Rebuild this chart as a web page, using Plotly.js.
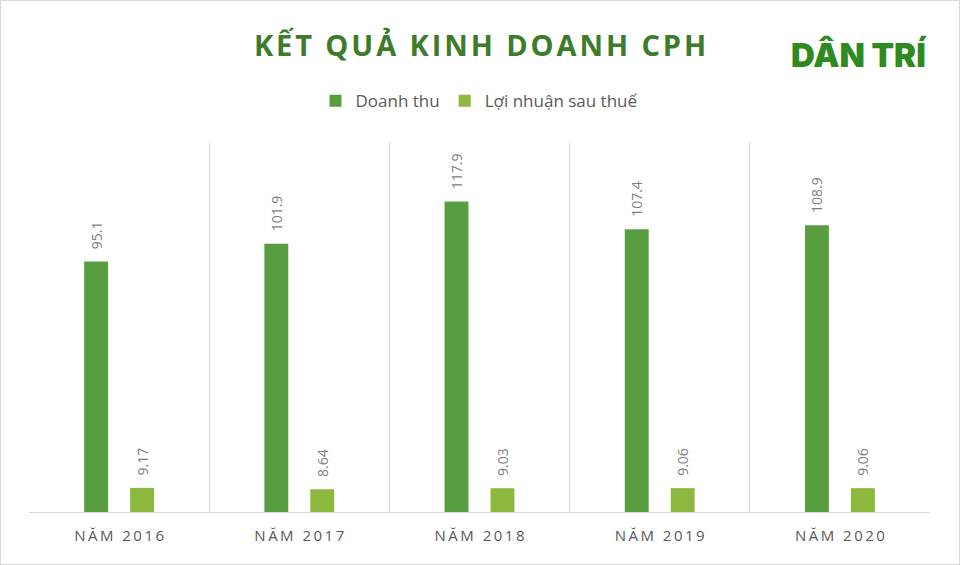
<!DOCTYPE html>
<html><head><meta charset="utf-8">
<script src="https://cdn.plot.ly/plotly-3.0.1.min.js"></script>
<style>
html,body{margin:0;padding:0;background:#fff;}
#chart{width:958px;height:563px;border:1px solid #d9d9d9;}
</style></head>
<body><div id="chart"></div>
<script>
const years = ["NĂM 2016","NĂM 2017","NĂM 2018","NĂM 2019","NĂM 2020"];
const doanhThu = [95.1, 101.9, 117.9, 107.4, 108.9];
const loiNhuan = [9.17, 8.64, 9.03, 9.06, 9.06];
const doanhThuLabels = ["95.1","101.9","117.9","107.4","108.9"];
const loiNhuanLabels = ["9.17","8.64","9.03","9.06","9.06"];
const chartTitle = "KẾT QUẢ KINH DOANH CPH";

const spaced = (s, sp) => s.split("").join(sp);
const pad = s => "\u2002\u2009" + s;
const xs = years.map((_, i) => i);

const labelFont = {family: "Open Sans, Noto Sans, sans-serif", size: 14, color: "#7f7f7f"};
const traces = [
  {type: "bar", name: "Doanh thu", x: xs, y: doanhThu, text: doanhThuLabels.map(pad),
   textposition: "outside", textangle: -90, textfont: labelFont, cliponaxis: false, constraintext: "none",
   marker: {color: "#589d3f"}, hoverinfo: "y"},
  {type: "bar", name: "Lợi nhuận sau thuế", x: xs, y: loiNhuan, text: loiNhuanLabels.map(pad),
   textposition: "outside", textangle: -90, textfont: labelFont, cliponaxis: false, constraintext: "none",
   marker: {color: "#8db83e"}, hoverinfo: "y"}
];

const layout = {
  width: 958, height: 563,
  margin: {l: 28, r: 29, t: 141, b: 52},
  paper_bgcolor: "#ffffff", plot_bgcolor: "#ffffff",
  barmode: "group", bargap: 0.49, bargroupgap: 0.48,
  showlegend: true,
  legend: {orientation: "h", x: 0.5, xanchor: "center", xref: "paper", y: 1.11, yanchor: "middle",
           font: {family: "Open Sans, Noto Sans, sans-serif", size: 17, color: "#595959"},
           itemwidth: 30, traceorder: "normal"},
  title: {text: "<b>" + spaced(chartTitle, "\u200A") + "</b>", x: 0.5, xanchor: "center", y: 0.92, yanchor: "middle",
          font: {family: "Open Sans, Noto Sans, sans-serif", size: 29, color: "#3e7b2a"}},
  xaxis: {range: [-0.5, 4.5], tickvals: xs, ticktext: years.map(s => spaced(s, "\u2009")), showgrid: false,
          zeroline: false, showline: true, linecolor: "#d9d9d9", linewidth: 1, ticks: "", ticklabelstandoff: 10,
          tickfont: {family: "Open Sans, Noto Sans, sans-serif", size: 15, color: "#595959"},
          minor: {tick0: 0.5, dtick: 1, showgrid: true, gridcolor: "#d9d9d9", gridwidth: 1, ticks: ""}},
  yaxis: {range: [0, 140.5], showgrid: false, zeroline: false, showticklabels: false, showline: false, ticks: ""},
  annotations: [
    {text: "DÂN TRÍ", xref: "paper", yref: "paper", x: 0.999, y: 1.235, xanchor: "right", yanchor: "middle",
     showarrow: false, font: {family: "Inter, Roboto, sans-serif", size: 33, weight: 900, color: "#2f8a1f"}}
  ]
};
Plotly.newPlot("chart", traces, layout, {displayModeBar: false, staticPlot: true});
</script></body></html>
